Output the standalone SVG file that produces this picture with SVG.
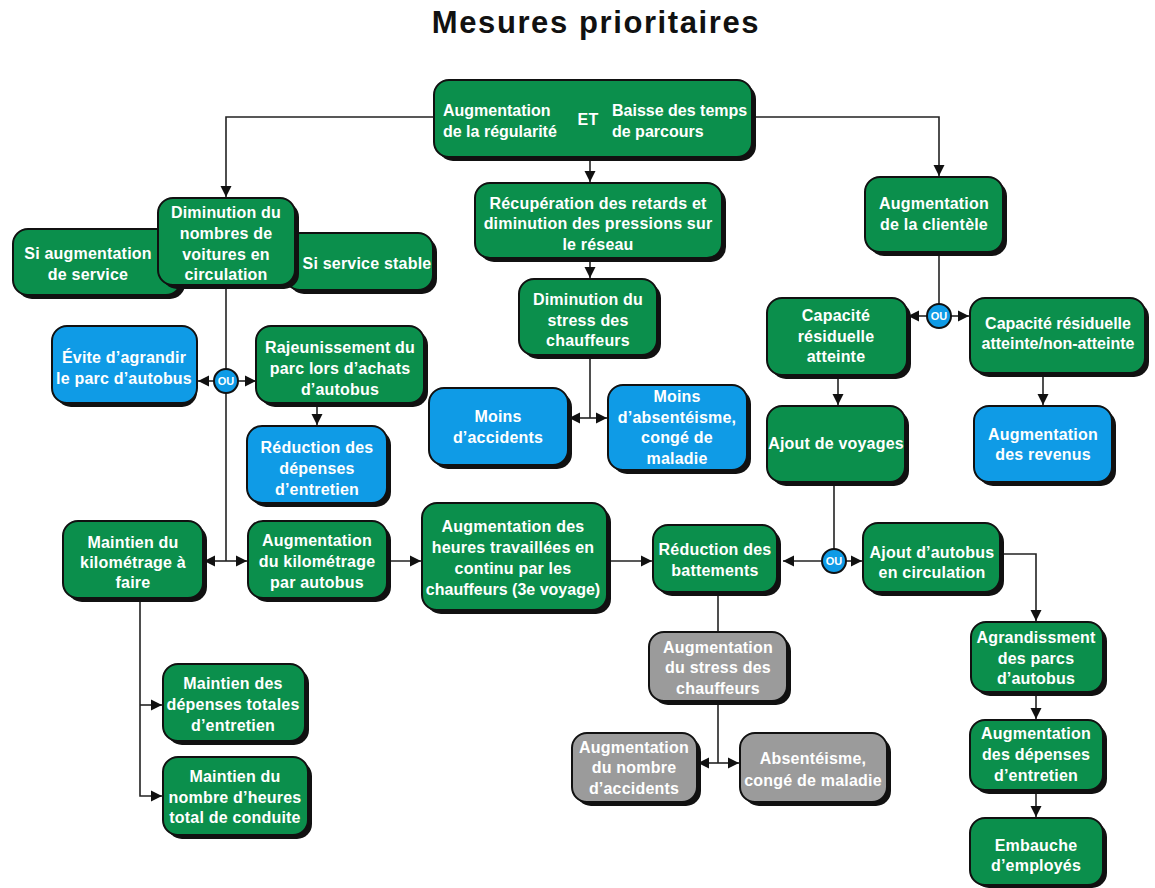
<svg xmlns="http://www.w3.org/2000/svg" width="1155" height="888" viewBox="0 0 1155 888">
<defs>
<marker id="ah" viewBox="0 0 10 10" refX="10" refY="5" markerWidth="11" markerHeight="12" markerUnits="userSpaceOnUse" orient="auto">
<path d="M0,0 L10,5 L0,10 z" fill="#111"/>
</marker>
</defs>
<style>
.sh{fill:#111}
.g{fill:#0b8f4c;stroke:#111;stroke-width:2}
.b{fill:#0f9be6;stroke:#111;stroke-width:2}
.y{fill:#9b9b9b;stroke:#111;stroke-width:2}
.t{font-family:"Liberation Sans",Arial,sans-serif;font-weight:bold;font-size:16px;letter-spacing:0.2px;fill:#fff;text-anchor:middle}
.tl{text-anchor:start;letter-spacing:0}
.n0{letter-spacing:0}
.c{fill:none;stroke:#222;stroke-width:1.6}
.a{marker-end:url(#ah)}
.ou{fill:#0f9be6;stroke:#111;stroke-width:2}
.out{font-family:"Liberation Sans",Arial,sans-serif;font-weight:bold;font-size:11px;fill:#fff;text-anchor:middle}
.title{font-family:"Liberation Sans",Arial,sans-serif;font-weight:bold;font-size:31px;letter-spacing:1.6px;fill:#111;text-anchor:middle}
</style>
<rect width="1155" height="888" fill="#fff"/>
<text class="title" x="596" y="33">Mesures prioritaires</text>

<g id="connectors">
<path class="c a" d="M434,117 H226 V197"/>
<path class="c a" d="M752,117 H939 V176"/>
<path class="c a" d="M590,157 V182"/>
<path class="c a" d="M590,258 V278"/>
<path class="c" d="M590,355 V418"/>
<path class="c a" d="M590,418 H569"/>
<path class="c a" d="M590,418 H607"/>
<path class="c" d="M226,285 V561"/>
<path class="c a" d="M214,381 H198"/>
<path class="c a" d="M238,381 H256"/>
<path class="c a" d="M317,403 V425"/>
<path class="c a" d="M226,561 H204"/>
<path class="c a" d="M226,561 H247"/>
<path class="c a" d="M387,561 H421"/>
<path class="c a" d="M607,561 H652"/>
<path class="c a" d="M140,598 V796 H162"/>
<path class="c a" d="M140,705 H162"/>
<path class="c" d="M939,252 V316"/>
<path class="c a" d="M927,316 H908"/>
<path class="c a" d="M951,316 H969"/>
<path class="c a" d="M838,375 V405"/>
<path class="c a" d="M1043,373 V405"/>
<path class="c" d="M834,482 V561"/>
<path class="c a" d="M822,561 H783"/>
<path class="c a" d="M846,561 H862"/>
<path class="c a" d="M1000,554 H1036 V621"/>
<path class="c a" d="M1036,692 V719"/>
<path class="c a" d="M1036,790 V817"/>
<path class="c" d="M718,594 V631"/>
<path class="c" d="M718,701 V763"/>
<path class="c a" d="M718,763 H698"/>
<path class="c a" d="M718,763 H739"/>
<circle class="ou" cx="226" cy="381" r="12"/>
<text class="out" x="226" y="385">OU</text>
<circle class="ou" cx="939" cy="316" r="12"/>
<text class="out" x="939" y="320">OU</text>
<circle class="ou" cx="834" cy="561" r="12"/>
<text class="out" x="834" y="565">OU</text>
</g>

<g id="n-top">
<rect class="sh" x="438" y="84" width="318" height="77" rx="15"/>
<rect class="g" x="434" y="80" width="318" height="77" rx="15"/>
<text class="t tl" x="443" y="116">Augmentation</text>
<text class="t tl" x="443" y="137">de la régularité</text>
<text class="t" x="588" y="125">ET</text>
<text class="t tl" x="612" y="116">Baisse des temps</text>
<text class="t tl" x="612" y="137">de parcours</text>
</g>

<g id="n-si-aug">
<rect class="sh" x="17" y="233" width="168" height="66" rx="15"/>
<rect class="g" x="13" y="229" width="168" height="66" rx="15"/>
<text class="t" x="88" y="259">Si augmentation</text>
<text class="t" x="88" y="280">de service</text>
</g>
<g id="n-si-stable">
<rect class="sh" x="289" y="237" width="148" height="57" rx="15"/>
<rect class="g" x="285" y="233" width="148" height="57" rx="15"/>
<text class="t" x="367" y="269">Si service stable</text>
</g>
<g id="n-diminution-voitures">
<rect class="sh" x="162" y="202" width="137" height="87" rx="15"/>
<rect class="g" x="158" y="198" width="137" height="87" rx="15"/>
<text class="t" x="226" y="218">Diminution du</text>
<text class="t" x="226" y="239">nombres de</text>
<text class="t" x="226" y="260">voitures en</text>
<text class="t" x="226" y="280">circulation</text>
</g>

<g id="n-recuperation">
<rect class="sh" x="479" y="187" width="247" height="75" rx="15"/>
<rect class="g" x="475" y="183" width="247" height="75" rx="15"/>
<text class="t" x="598" y="209">Récupération des retards et</text>
<text class="t" x="598" y="229">diminution des pressions sur</text>
<text class="t" x="598" y="250">le réseau</text>
</g>

<g id="n-stress">
<rect class="sh" x="523" y="283" width="138" height="76" rx="15"/>
<rect class="g" x="519" y="279" width="138" height="76" rx="15"/>
<text class="t" x="588" y="305">Diminution du</text>
<text class="t" x="588" y="326">stress des</text>
<text class="t" x="588" y="346">chauffeurs</text>
</g>

<g id="n-moins-accidents">
<rect class="sh" x="433" y="392" width="139" height="77" rx="15"/>
<rect class="b" x="429" y="388" width="139" height="77" rx="15"/>
<text class="t" x="498" y="422">Moins</text>
<text class="t" x="498" y="443">d’accidents</text>
</g>

<g id="n-moins-absent">
<rect class="sh" x="612" y="389" width="139" height="85" rx="15"/>
<rect class="b" x="608" y="385" width="139" height="85" rx="15"/>
<text class="t" x="677" y="402">Moins</text>
<text class="t" x="677" y="423">d’absentéisme,</text>
<text class="t" x="677" y="443">congé de</text>
<text class="t" x="677" y="464">maladie</text>
</g>

<g id="n-clientele">
<rect class="sh" x="869" y="181" width="138" height="75" rx="15"/>
<rect class="g" x="865" y="177" width="138" height="75" rx="15"/>
<text class="t" x="934" y="209">Augmentation</text>
<text class="t" x="934" y="230">de la clientèle</text>
</g>

<g id="n-cap-atteinte">
<rect class="sh" x="771" y="302" width="140" height="77" rx="15"/>
<rect class="g" x="767" y="298" width="140" height="77" rx="15"/>
<text class="t" x="836" y="321">Capacité</text>
<text class="t" x="836" y="342">résiduelle</text>
<text class="t" x="836" y="362">atteinte</text>
</g>

<g id="n-cap-non">
<rect class="sh" x="974" y="302" width="175" height="75" rx="15"/>
<rect class="g" x="970" y="298" width="175" height="75" rx="15"/>
<text class="t n0" x="1058" y="329">Capacité résiduelle</text>
<text class="t n0" x="1058" y="349">atteinte/non-atteinte</text>
</g>

<g id="n-ajout-voyages">
<rect class="sh" x="771" y="410" width="138" height="76" rx="15"/>
<rect class="g" x="767" y="406" width="138" height="76" rx="15"/>
<text class="t" x="836" y="449">Ajout de voyages</text>
</g>

<g id="n-revenus">
<rect class="sh" x="978" y="410" width="138" height="76" rx="15"/>
<rect class="b" x="974" y="406" width="138" height="76" rx="15"/>
<text class="t" x="1043" y="440">Augmentation</text>
<text class="t" x="1043" y="460">des revenus</text>
</g>

<g id="n-evite">
<rect class="sh" x="56" y="330" width="141" height="77" rx="15"/>
<rect class="b" x="52" y="326" width="145" height="77" rx="15"/>
<text class="t" x="124" y="363">Évite d’agrandir</text>
<text class="t" x="124" y="384">le parc d’autobus</text>
</g>

<g id="n-rajeunissement">
<rect class="sh" x="260" y="330" width="168" height="77" rx="15"/>
<rect class="g" x="256" y="326" width="168" height="77" rx="15"/>
<text class="t" x="340" y="353">Rajeunissement du</text>
<text class="t" x="340" y="374">parc lors d’achats</text>
<text class="t" x="340" y="395">d’autobus</text>
</g>

<g id="n-reduction-depenses">
<rect class="sh" x="251" y="430" width="140" height="77" rx="15"/>
<rect class="b" x="247" y="426" width="140" height="77" rx="15"/>
<text class="t" x="317" y="453">Réduction des</text>
<text class="t" x="317" y="474">dépenses</text>
<text class="t" x="317" y="495">d’entretien</text>
</g>

<g id="n-maintien-km">
<rect class="sh" x="67" y="525" width="140" height="77" rx="15"/>
<rect class="g" x="63" y="521" width="140" height="77" rx="15"/>
<text class="t" x="133" y="548">Maintien du</text>
<text class="t" x="133" y="568">kilométrage à</text>
<text class="t" x="133" y="588">faire</text>
</g>

<g id="n-aug-km">
<rect class="sh" x="252" y="525" width="139" height="77" rx="15"/>
<rect class="g" x="248" y="521" width="139" height="77" rx="15"/>
<text class="t" x="317" y="546">Augmentation</text>
<text class="t" x="317" y="567">du kilométrage</text>
<text class="t" x="317" y="588">par autobus</text>
</g>

<g id="n-heures">
<rect class="sh" x="426" y="507" width="185" height="107" rx="15"/>
<rect class="g" x="422" y="503" width="185" height="107" rx="15"/>
<text class="t" x="513" y="532">Augmentation des</text>
<text class="t" x="513" y="553">heures travaillées en</text>
<text class="t" x="513" y="574">continu par les</text>
<text class="t n0" x="513" y="595">chauffeurs (3e voyage)</text>
</g>

<g id="n-battements">
<rect class="sh" x="657" y="529" width="124" height="67" rx="15"/>
<rect class="g" x="653" y="525" width="124" height="67" rx="15"/>
<text class="t" x="715" y="555">Réduction des</text>
<text class="t" x="715" y="576">battements</text>
</g>

<g id="n-ajout-autobus">
<rect class="sh" x="867" y="527" width="137" height="69" rx="15"/>
<rect class="g" x="863" y="523" width="137" height="69" rx="15"/>
<text class="t" x="932" y="558">Ajout d’autobus</text>
<text class="t" x="932" y="578">en circulation</text>
</g>

<g id="n-agrandissment">
<rect class="sh" x="975" y="626" width="132" height="70" rx="15"/>
<rect class="g" x="971" y="622" width="132" height="70" rx="15"/>
<text class="t" x="1036" y="643">Agrandissment</text>
<text class="t" x="1036" y="664">des parcs</text>
<text class="t" x="1036" y="684">d’autobus</text>
</g>

<g id="n-aug-depenses">
<rect class="sh" x="974" y="724" width="133" height="70" rx="15"/>
<rect class="g" x="970" y="720" width="133" height="70" rx="15"/>
<text class="t" x="1036" y="739">Augmentation</text>
<text class="t" x="1036" y="760">des dépenses</text>
<text class="t" x="1036" y="781">d’entretien</text>
</g>

<g id="n-embauche">
<rect class="sh" x="974" y="822" width="133" height="66" rx="15"/>
<rect class="g" x="970" y="818" width="133" height="67" rx="15"/>
<text class="t" x="1036" y="851">Embauche</text>
<text class="t" x="1036" y="871">d’employés</text>
</g>

<g id="n-maintien-depenses">
<rect class="sh" x="167" y="668" width="142" height="77" rx="15"/>
<rect class="g" x="163" y="664" width="142" height="77" rx="15"/>
<text class="t" x="233" y="689">Maintien des</text>
<text class="t" x="233" y="710">dépenses totales</text>
<text class="t" x="233" y="731">d’entretien</text>
</g>

<g id="n-maintien-heures">
<rect class="sh" x="167" y="761" width="145" height="78" rx="15"/>
<rect class="g" x="163" y="757" width="145" height="78" rx="15"/>
<text class="t" x="235" y="782">Maintien du</text>
<text class="t" x="235" y="803">nombre d’heures</text>
<text class="t" x="235" y="823">total de conduite</text>
</g>

<g id="n-aug-stress">
<rect class="sh" x="653" y="636" width="138" height="69" rx="15"/>
<rect class="y" x="649" y="632" width="138" height="69" rx="15"/>
<text class="t" x="718" y="653">Augmentation</text>
<text class="t" x="718" y="673">du stress des</text>
<text class="t" x="718" y="694">chauffeurs</text>
</g>

<g id="n-aug-accidents">
<rect class="sh" x="576" y="737" width="125" height="69" rx="15"/>
<rect class="y" x="572" y="733" width="125" height="69" rx="15"/>
<text class="t" x="634" y="753">Augmentation</text>
<text class="t" x="634" y="773">du nombre</text>
<text class="t" x="634" y="794">d’accidents</text>
</g>

<g id="n-absenteisme">
<rect class="sh" x="744" y="737" width="147" height="69" rx="15"/>
<rect class="y" x="740" y="733" width="147" height="69" rx="15"/>
<text class="t" x="813" y="764">Absentéisme,</text>
<text class="t" x="813" y="786">congé de maladie</text>
</g>
</svg>
